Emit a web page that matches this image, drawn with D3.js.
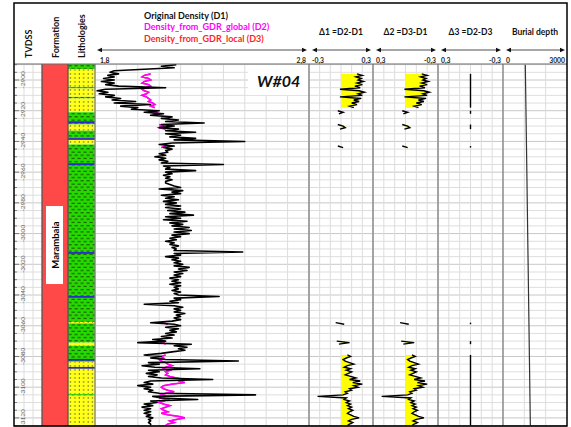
<!DOCTYPE html>
<html><head><meta charset="utf-8">
<script src="https://cdn.jsdelivr.net/npm/d3@7"></script>
<style>
body{margin:0;background:#fff}
svg{display:block}
text{font-family:Lato,"Open Sans","DejaVu Sans",sans-serif}
</style>
</head><body>
<svg id="c" width="571" height="427"></svg>
<script>
// ---------------- DATA ----------------
const wellName = "W#04";
const formationName = "Marambaia";
const depthTicks = [-2900,-2920,-2940,-2960,-2980,-3000,-3020,-3040,-3060,-3080,-3100,-3120];
const depthTickLabels = ["-2900","-2920","-2940","-2960","-2980","-3000","-3020","-3040","-3060","-3080","-3100","-3120"];
const legendLabels = ["Original Density (D1)","Density_from_GDR_global (D2)","Density_from_GDR_local (D3)"];
const columnTitles = ["TVDSS","Formation","Lithologies"];
const trackTitles = ["\u03941 =D2-D1","\u03942 =D3-D1","\u03943 =D2-D3","Burial depth"];
const densityScaleLabels = ["1,8","2,8"];
const trackScaleLabels = [["-0,3","0,3"],["0,3","-0,3"],["0,3","-0,3"],["0","3000"]];

// sampling: first sample TVDSS, 1 m step downward
const sampleTop = -2890;
// D1 original density (g/cc), one value per metre
const densityOriginal = [
2.18,2.11,2.17,2.03,1.89,1.87,1.91,1.86,1.89,1.84,
1.89,1.83,1.89,1.85,1.91,2.13,1.85,1.81,1.86,1.82,
1.89,1.85,1.92,1.88,1.99,1.89,2.06,1.92,2.00,1.97,
2.10,2.03,2.12,2.06,2.16,2.11,2.19,2.13,2.31,2.11,
2.17,2.10,2.19,2.13,2.27,2.13,2.20,2.15,2.27,2.17,
2.50,2.16,2.10,2.17,2.12,2.16,2.13,2.14,2.10,2.13,
2.08,2.13,2.10,2.14,2.11,2.40,2.12,2.15,2.13,2.27,
2.13,2.16,2.12,2.15,2.13,2.16,2.13,2.13,2.15,2.17,
2.20,2.10,2.21,2.16,2.20,2.11,2.17,2.13,2.19,2.12,
2.18,2.13,2.20,2.13,2.20,2.14,2.22,2.15,2.26,2.13,
2.20,2.12,2.23,2.15,2.21,2.16,2.24,2.17,2.25,2.17,
2.24,2.16,2.20,2.15,2.18,2.13,2.17,2.15,2.19,2.16,
2.18,2.17,2.49,2.17,2.20,2.13,2.19,2.16,2.20,2.17,
2.21,2.17,2.24,2.19,2.23,2.17,2.21,2.17,2.20,2.15,
2.19,2.16,2.20,2.15,2.20,2.17,2.19,2.16,2.20,2.17,
2.19,2.38,2.17,2.20,2.15,2.19,2.03,2.17,2.21,2.17,
2.20,2.17,2.22,2.18,2.20,2.17,2.20,2.16,2.06,2.17,
2.20,2.13,2.19,2.15,2.18,2.13,2.17,2.11,2.16,2.07,
2.13,2.00,2.25,2.17,2.23,2.19,2.22,2.16,2.11,2.03,
2.11,2.06,2.13,2.47,2.05,2.10,2.02,2.08,2.29,2.05,
2.10,2.04,2.09,2.05,2.11,2.35,2.06,2.03,2.07,2.00,
2.06,2.03,2.07,2.05,2.10,2.55,2.07,2.11,2.28,2.06,
2.09,2.03,2.07,2.02,2.06,2.03,2.06,2.03,2.06,2.04,
2.07,2.05,2.06,2.05,2.06,2.06
];

// GDR-derived curves exist only on some intervals: top TVDSS of each segment
const segmentTops = [-2896,-2920,-2929,-2943,-3058,-3070,-3079];
const densityGlobal = [
 [2.06,2.03,2.02,2.05,2.06,2.03,2.02,2.05,2.06,2.04,2.02,2.03,2.05,2.04,2.02,2.04,2.05,2.06,2.05,2.07,2.08,2.06,2.08],
 [2.08,2.09,2.07],
 [2.10,2.12,2.10,2.13],
 [2.13,2.11],
 [2.12,2.14],
 [2.10,2.12,2.13],
 [2.13,2.11,2.12,2.10,2.11,2.13,2.14,2.16,2.13,2.12,2.15,2.13,2.14,2.13,2.15,2.18,2.22,2.19,2.22,2.16,
  2.12,2.11,2.12,2.14,2.17,2.13,2.11,2.13,2.10,2.14,2.12,2.10,2.12,2.15,2.13,2.11,2.12,2.14,2.11,2.14,
  2.19,2.22,2.18,2.15,2.17,2.14,2.13]
];
const densityLocal = [
 [2.06,2.03,2.02,2.05,2.06,2.03,2.02,2.05,2.06,2.04,2.02,2.03,2.05,2.04,2.02,2.04,2.05,2.06,2.05,2.07,2.08,2.06,2.08],
 [2.08,2.09,2.07],
 [2.10,2.12,2.10,2.13],
 [2.13,2.11],
 [2.12,2.14],
 [2.10,2.12,2.13],
 [2.13,2.11,2.12,2.10,2.11,2.13,2.14,2.16,2.13,2.12,2.15,2.13,2.14,2.13,2.15,2.18,2.22,2.19,2.22,2.16,
  2.12,2.11,2.12,2.14,2.17,2.13,2.11,2.13,2.10,2.14,2.12,2.10,2.12,2.15,2.13,2.11,2.12,2.14,2.11,2.14,
  2.19,2.22,2.18,2.15,2.17,2.14,2.13]
];
const delta1 = [
 [0.15,0.20,0.14,0.19,0.16,0.21,0.15,0.20,0.13,0.18,-0.01,0.17,0.22,0.16,0.20,-0.01,0.19,0.12,0.17,0.10,0.15,0.08,0.12],
 [-0.03,0.02,-0.02],
 [-0.03,0.02,0.04,-0.01],
 [-0.03,0.02],
 [-0.05,0.03],
 [-0.04,0.08,-0.02],
 [0.06,0.09,0.05,0.02,0.04,0.08,0.12,0.06,0.03,0.09,0.05,0.10,0.07,0.04,0.09,0.14,0.08,0.18,0.11,0.20,
  0.12,0.16,0.08,0.10,0.04,0.06,0.02,-0.22,0.05,0.03,0.08,0.05,0.09,0.06,0.10,0.07,0.11,0.08,0.06,0.09,
  0.12,0.17,0.10,0.07,0.11,0.08,0.06]
];
const delta2 = [
 [-0.15,-0.20,-0.14,-0.19,-0.16,-0.21,-0.15,-0.20,-0.13,-0.18,0.01,-0.17,-0.22,-0.16,-0.20,0.01,-0.19,-0.12,-0.17,-0.10,-0.15,-0.08,-0.12],
 [0.03,-0.02,0.02],
 [0.03,-0.02,-0.04,0.01],
 [0.03,-0.02],
 [0.05,-0.03],
 [0.04,-0.08,0.02],
 [-0.06,-0.09,-0.05,-0.02,-0.04,-0.08,-0.12,-0.06,-0.03,-0.09,-0.05,-0.10,-0.07,-0.04,-0.09,-0.14,-0.08,-0.18,-0.11,-0.20,
  -0.12,-0.16,-0.08,-0.10,-0.04,-0.06,-0.02,0.22,-0.05,-0.03,-0.08,-0.05,-0.09,-0.06,-0.10,-0.07,-0.11,-0.08,-0.06,-0.09,
  -0.12,-0.17,-0.10,-0.07,-0.11,-0.08,-0.06]
];
const delta3 = [
 [0,0,0,0,0,0,0,0,0,0,0,0,0,0,0,0,0,0,0,0,0,0,0],
 [0,0,0],
 [0,0,0,0],
 [0,0],
 [0,0],
 [0,0,0],
 [0,0,0,0,0,0,0,0,0,0,0,0,0,0,0,0,0,0,0,0,0,0,0,0,0,0,0,0,0,0,0,0,0,0,0,0,0,0,0,0,0,0,0,0,0,0,0]
];

// burial depth (m) vs TVDSS
const burialTVD = [-2890,-2950,-3125];
const burialValues = [1045,1108,1282];

// lithology intervals
const lithTop  = [-2889.6,-2893,-2904.5,-2905.5,-2911,-2912,-2921,-2929,-2933,-2938,-2942,-3057.5,-3058.5,-3071,-3073,-3083.5,-3104.5,-3105.5];
const lithBase = [-2893,-2904.5,-2905.5,-2911,-2912,-2921,-2929,-2933,-2938,-2942,-3057.5,-3058.5,-3071,-3073,-3083.5,-3104.5,-3105.5,-3125.3];
const lithType = ["shale","sand","shale","sand","shale","sand","shale","sand","shale","sand","shale","sand","shale","sand","shale","sand","shale","sand"];
const thinBeds = [-2927.5,-2938.4,-2954.8,-3012.6,-3041.2,-3082.2,-3087.4];
const formationTop = -2889.6, formationBase = -3125.3;

// ---------------- LAYOUT ----------------
const svg = d3.select("#c");
const FX0 = 14, FX1 = 567, FY0 = 3, HB = 64, YB = 426;
const T = {tvd:[14,42], form:[42,68], lith:[68,95], dens:[95,309], d1:[309,373], d2:[373,438], d3:[438,503], bur:[503,567]};
const y = d3.scaleLinear().domain([-2900,-3120]).range([80,417.9]);
const xD = d3.scaleLinear().domain([1.8,2.8]).range(T.dens);
const xD1 = d3.scaleLinear().domain([-0.3,0.3]).range(T.d1);
const xD2 = d3.scaleLinear().domain([0.3,-0.3]).range(T.d2);
const xD3 = d3.scaleLinear().domain([0.3,-0.3]).range(T.d3);
const xB = d3.scaleLinear().domain([0,3000]).range(T.bur);

svg.append("rect").attr("width",571).attr("height",427).attr("fill","#fff");

const defs = svg.append("defs");
const sand = defs.append("pattern").attr("id","sand").attr("patternUnits","userSpaceOnUse")
  .attr("x",68.5).attr("y",0).attr("width",4.4).attr("height",4);
sand.append("rect").attr("width",4.4).attr("height",4).attr("fill","#ffff1a");
sand.append("rect").attr("x",1.5).attr("y",1.4).attr("width",1.1).attr("height",1.1).attr("fill","#333");
const shale = defs.append("pattern").attr("id","shale").attr("patternUnits","userSpaceOnUse")
  .attr("x",68).attr("y",0).attr("width",6).attr("height",6.4);
shale.append("rect").attr("width",6).attr("height",6.4).attr("fill","#26d900");
shale.append("rect").attr("x",0.5).attr("y",1.2).attr("width",3.2).attr("height",0.9).attr("fill","#1a3a00");
shale.append("rect").attr("x",3.5).attr("y",4.4).attr("width",3.2).attr("height",0.9).attr("fill","#1a3a00");
shale.append("rect").attr("x",-2.5).attr("y",4.4).attr("width",3.2).attr("height",0.9).attr("fill","#1a3a00");

const plotClip = defs.append("clipPath").attr("id","plot");
plotClip.append("rect").attr("x",FX0).attr("y",HB).attr("width",FX1-FX0).attr("height",YB-HB);

// ---------------- GRID ----------------
const grid = svg.append("g").attr("clip-path","url(#plot)");
const minorDepths = d3.range(-2890,-3126,-5);
const gridTracks = [T.tvd, T.dens, T.d1, T.d2, T.d3, T.bur];
gridTracks.forEach(tr => {
  grid.selectAll(null).data(minorDepths).enter().append("line")
    .attr("x1",tr[0]).attr("x2",tr[1]).attr("y1",d=>y(d)).attr("y2",d=>y(d))
    .attr("stroke", d => (d % 20 === 0) ? "#c8c8c8" : "#dedede").attr("stroke-width",1);
});
const vg = [];
xD.ticks(10).forEach(v => vg.push(xD(v)));
xD1.ticks(6).forEach(v => vg.push(xD1(v)));
xD2.ticks(6).forEach(v => vg.push(xD2(v)));
xD3.ticks(6).forEach(v => vg.push(xD3(v)));
[1000,2000].forEach(v => vg.push(xB(v)));
[24,33].forEach(v => vg.push(v));
grid.selectAll(null).data(vg).enter().append("line")
  .attr("x1",d=>d).attr("x2",d=>d).attr("y1",HB).attr("y2",YB)
  .attr("stroke","#dcdcdc").attr("stroke-width",1);

grid.selectAll(null).data(minorDepths).enter().append("line")
  .attr("x1",FX0).attr("x2",d => FX0 + ((d % 20 === 0) ? 5 : 3))
  .attr("y1",d=>y(d)).attr("y2",d=>y(d)).attr("stroke","#666").attr("stroke-width",0.8);
svg.selectAll(null).data(depthTicks).enter().append("text")
  .attr("transform",(d)=>`translate(24.5,${y(d)}) rotate(-90)`)
  .attr("text-anchor","middle").attr("font-size",6.5).attr("fill","#666")
  .text((d,i)=>depthTickLabels[i]);

// ---------------- FORMATION ----------------
svg.append("rect").attr("x",T.form[0]).attr("y",y(formationTop)).attr("width",T.form[1]-T.form[0])
  .attr("height",y(formationBase)-y(formationTop)).attr("fill","#ff4848");
const fMid = (y(formationTop)+y(formationBase))/2;
svg.append("rect").attr("x",46).attr("y",fMid-39).attr("width",17).attr("height",78).attr("fill","#fff");
svg.append("text").attr("transform",`translate(58.5,${fMid}) rotate(-90)`).attr("text-anchor","middle")
  .attr("font-size",9.5).attr("font-weight","bold").attr("fill","#000").text(formationName);

// ---------------- LITHOLOGY ----------------
const lith = svg.append("g");
lith.selectAll(null).data(lithTop).enter().append("rect")
  .attr("x",T.lith[0]).attr("width",T.lith[1]-T.lith[0])
  .attr("y",(d)=>y(d)).attr("height",(d,i)=>y(lithBase[i])-y(d))
  .attr("fill",(d,i)=> lithType[i]==="sand" ? "url(#sand)" : "url(#shale)");
lith.selectAll(null).data(thinBeds).enter().append("line")
  .attr("x1",T.lith[0]).attr("x2",T.lith[1]).attr("y1",d=>y(d)).attr("y2",d=>y(d))
  .attr("stroke","#2a2ad0").attr("stroke-width",1.8);

// ---------------- DENSITY TRACK ----------------
svg.append("rect").attr("x",248).attr("y",65).attr("width",60).attr("height",30).attr("fill","#fff");
svg.append("text").attr("x",257).attr("y",87).attr("font-size",16).attr("font-weight","bold")
  .attr("font-style","italic").attr("fill","#111").text(wellName);

const curves = svg.append("g").attr("clip-path","url(#plot)");
const d1pts = densityOriginal.map((v,i)=>({z: sampleTop - i, v}));
const lineD = d3.line().x(d=>xD(d.v)).y(d=>y(d.z));
function segPoints(arr){ return arr.map((vals,k)=>vals.map((v,i)=>({z: segmentTops[k]-i, v}))); }
segPoints(densityLocal).forEach(s => curves.append("path").attr("d",lineD(s)).attr("fill","none")
  .attr("stroke","#ff2020").attr("stroke-width",1.4));
segPoints(densityGlobal).forEach(s => curves.append("path").attr("d",lineD(s)).attr("fill","none")
  .attr("stroke","#ff00ff").attr("stroke-width",1.6));
curves.append("path").attr("d",lineD(d1pts)).attr("fill","none").attr("stroke","#000")
  .attr("stroke-width",1.6).attr("stroke-linejoin","round");

// ---------------- DELTA TRACKS ----------------
function deltaTrack(arr, xs, fill){
  segPoints(arr).forEach(s => {
    if (fill) {
      const area = d3.area().y(d=>y(d.z)).x0(xs(0)).x1(d=>Math.max(xs(d.v), xs(0)));
      curves.append("path").attr("d",area(s)).attr("fill","#ffff00");
    }
    curves.append("path").attr("d",d3.line().x(d=>xs(d.v)).y(d=>y(d.z))(s))
      .attr("fill","none").attr("stroke","#000").attr("stroke-width",1.4);
  });
}
deltaTrack(delta1, xD1, true);
deltaTrack(delta2, xD2, true);
deltaTrack(delta3, xD3, false);

curves.append("path").attr("d", d3.line().x(d=>xB(d[1])).y(d=>y(d[0]))(burialTVD.map((z,i)=>[z,burialValues[i]])))
  .attr("fill","none").attr("stroke","#333").attr("stroke-width",1.2);

// ---------------- BORDERS ----------------
const borders = [T.form[0], T.lith[0], T.dens[0], T.d1[0], T.d2[0], T.d3[0], T.bur[0]];
svg.selectAll(null).data(borders).enter().append("line")
  .attr("x1",d=>d).attr("x2",d=>d).attr("y1",HB).attr("y2",YB)
  .attr("stroke",(d,i)=> i<2 ? "#555" : "#808080").attr("stroke-width",1.3);
svg.append("line").attr("x1",FX0).attr("x2",FX1).attr("y1",HB).attr("y2",HB).attr("stroke","#666").attr("stroke-width",1);
svg.append("line").attr("x1",FX0).attr("x2",FX1).attr("y1",YB).attr("y2",YB).attr("stroke","#555").attr("stroke-width",1.2);
svg.append("rect").attr("x",FX0).attr("y",FY0).attr("width",FX1-FX0).attr("height",YB-FY0)
  .attr("fill","none").attr("stroke","#000").attr("stroke-width",1.5);

// ---------------- HEADER ----------------
const hdr = svg.append("g");
const colCenters = [31.5, 58.5, 85];
columnTitles.forEach((t,i)=>{
  hdr.append("text").attr("transform",`translate(${colCenters[i]},58) rotate(-90)`)
    .attr("font-size",9).attr("font-weight","bold").attr("fill","#111").text(t);
});
const legendColors = ["#111","#ff00ff","#ff1f1f"];
legendLabels.forEach((t,i)=>{
  hdr.append("text").attr("x",144).attr("y",18.5 + i*11.5).attr("font-size",9).attr("font-weight","bold")
    .attr("fill",legendColors[i]).text(t);
});
[T.d1,T.d2,T.d3,T.bur].forEach((tr,i)=>{
  hdr.append("text").attr("x",(tr[0]+tr[1])/2).attr("y",35).attr("text-anchor","middle")
    .attr("font-size",8.5).attr("font-weight","bold").attr("fill","#111").text(trackTitles[i]);
});
function arrow(x1,x2){
  const yA = 50;
  hdr.append("line").attr("x1",x1+3).attr("x2",x2-3).attr("y1",yA).attr("y2",yA).attr("stroke","#222").attr("stroke-width",0.8);
  hdr.append("path").attr("d",`M${x1},${yA}L${x1+5},${yA-2.3}L${x1+5},${yA+2.3}Z`).attr("fill","#111");
  hdr.append("path").attr("d",`M${x2},${yA}L${x2-5},${yA-2.3}L${x2-5},${yA+2.3}Z`).attr("fill","#111");
}
arrow(97,307);
[T.d1,T.d2,T.d3,T.bur].forEach(tr=>arrow(tr[0]+3, tr[1]-2));
function scaleLabels(tr, labs){
  hdr.append("text").attr("x",tr[0]+3).attr("y",62.5).attr("font-size",6.8).attr("font-weight","bold").attr("fill","#222").text(labs[0]);
  hdr.append("text").attr("x",tr[1]-2).attr("y",62.5).attr("text-anchor","end").attr("font-size",6.8).attr("font-weight","bold").attr("fill","#222").text(labs[1]);
}
scaleLabels([97,308], densityScaleLabels);
[T.d1,T.d2,T.d3,T.bur].forEach((tr,i)=>scaleLabels(tr, trackScaleLabels[i]));
</script>
</body></html>
